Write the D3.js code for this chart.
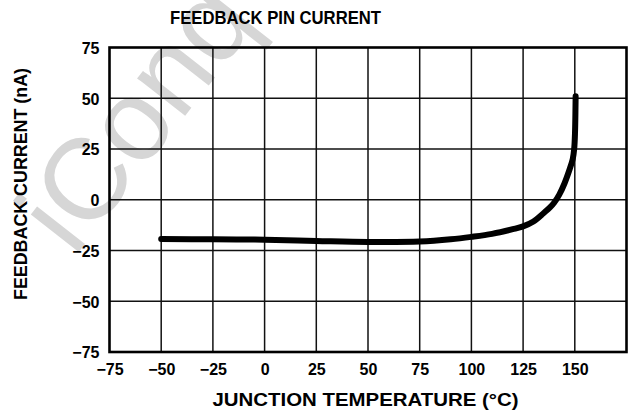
<!DOCTYPE html>
<html>
<head>
<meta charset="utf-8">
<script src="https://cdn.jsdelivr.net/npm/d3@7"></script>
<style>
  html, body { margin: 0; padding: 0; background: #fff; }
  svg { display: block; }
  text { font-family: "Liberation Sans", Arial, sans-serif; font-weight: bold; fill: #000; }
</style>
</head>
<body>
<svg id="chart" width="637" height="414"></svg>
<script>
// ---- data ----
const temperature = [-50, -25, 0, 25, 50, 75, 90, 100, 110, 120, 125, 130, 135, 138, 140, 142.5, 145, 147.5, 149, 149.7, 150.1, 150.4];
const feedbackCurrent = [-19.3, -19.5, -19.7, -20.3, -20.8, -20.6, -19.5, -18.3, -16.8, -14.5, -13.1, -10.7, -6.5, -3.8, -1.5, 2.5, 8, 15, 20, 25, 33, 51];
const xTicks = [-75, -50, -25, 0, 25, 50, 75, 100, 125, 150];
const xGrid = [-50, -25, 0, 25, 50, 75, 100, 125, 150];
const yTicks = [75, 50, 25, 0, -25, -50, -75];
const title = "FEEDBACK PIN CURRENT";
const xLabel = "JUNCTION TEMPERATURE (°C)";
const yLabel = "FEEDBACK CURRENT (nA)";
const watermark = "iConq";

const svg = d3.select("#chart");
const x = d3.scaleLinear().domain([-75, 175]).range([109.5, 626.5]);
const y = d3.scaleLinear().domain([-75, 75]).range([352, 47.5]);

// watermark (faint, behind everything)
svg.append("text")
  .attr("transform", "translate(74,258) rotate(-52)")
  .style("font-weight", "normal")
  .style("font-size", "115px")
  .style("fill", "#d6d6d6")
  .text(watermark);

// grid
const g = svg.append("g");
g.selectAll("line.vg").data(xGrid).join("line")
  .attr("x1", d => x(d)).attr("x2", d => x(d))
  .attr("y1", y(75)).attr("y2", y(-75))
  .attr("stroke", "#111").attr("stroke-width", 1.5);
g.selectAll("line.hg").data(yTicks.filter(d => d !== 75 && d !== -75)).join("line")
  .attr("x1", x(-75)).attr("x2", x(175))
  .attr("y1", d => y(d)).attr("y2", d => y(d))
  .attr("stroke", "#111").attr("stroke-width", 1.5);

// frame
svg.append("rect")
  .attr("x", x(-75)).attr("y", y(75))
  .attr("width", x(175) - x(-75)).attr("height", y(-75) - y(75))
  .attr("fill", "none").attr("stroke", "#000").attr("stroke-width", 2.6);

// tick labels
const xAxis = d3.axisBottom(x).tickValues(xTicks).tickSize(0).tickPadding(0);
const xa = svg.append("g").attr("transform", `translate(0,${y(-75)})`).call(xAxis);
xa.select(".domain").remove();
xa.selectAll("text").attr("dy", null).attr("y", 23).style("font-size", "16px")
  .style("font-family", "'Liberation Sans', Arial, sans-serif").style("font-weight", "bold").attr("fill", "#000");

const yAxis = d3.axisLeft(y).tickValues(yTicks).tickSize(0).tickPadding(0);
const ya = svg.append("g").attr("transform", `translate(${x(-75)},0)`).call(yAxis);
ya.select(".domain").remove();
ya.selectAll("text").attr("x", -10).attr("dy", "0.36em").style("font-size", "16px")
  .style("font-family", "'Liberation Sans', Arial, sans-serif").style("font-weight", "bold").attr("fill", "#000");

// curve
const pts = temperature.map((t, i) => [t, feedbackCurrent[i]]);
const line = d3.line().x(d => x(d[0])).y(d => y(d[1])).curve(d3.curveCatmullRom.alpha(0.5));
svg.append("path").datum(pts)
  .attr("d", line)
  .attr("fill", "none").attr("stroke", "#000").attr("stroke-width", 6)
  .attr("stroke-linecap", "round").attr("stroke-linejoin", "round");

// titles
svg.append("text").attr("x", 275.5).attr("y", 24).attr("text-anchor", "middle")
  .style("font-size", "19px").attr("textLength", 211).attr("lengthAdjust", "spacingAndGlyphs").text(title);
svg.append("text").attr("x", 365.5).attr("y", 406).attr("text-anchor", "middle")
  .style("font-size", "18.5px").attr("textLength", 306).attr("lengthAdjust", "spacingAndGlyphs").text(xLabel);
svg.append("text").attr("transform", "translate(26.5,184) rotate(-90)").attr("text-anchor", "middle")
  .style("font-size", "17.5px").attr("textLength", 232).attr("lengthAdjust", "spacingAndGlyphs").text(yLabel);
</script>
</body>
</html>
